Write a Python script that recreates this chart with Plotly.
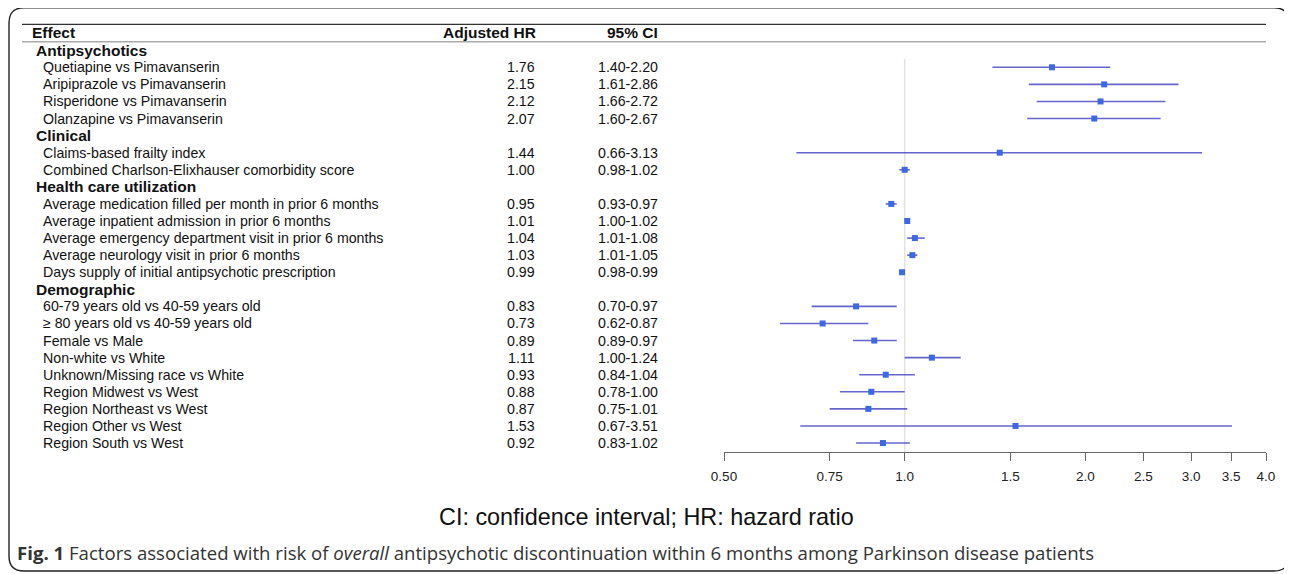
import plotly.graph_objects as go

# page body has an 8px margin; the figure is sized/offset to compensate
OFF = 8
W, H = 1292 - OFF, 574 - OFF

# ---------------- data ----------------
groups = ["Antipsychotics", "Clinical", "Health care utilization", "Demographic"]
effects = [
    "Quetiapine vs Pimavanserin",
    "Aripiprazole vs Pimavanserin",
    "Risperidone vs Pimavanserin",
    "Olanzapine vs Pimavanserin",
    "Claims-based frailty index",
    "Combined Charlson-Elixhauser comorbidity score",
    "Average medication filled per month in prior 6 months",
    "Average inpatient admission in prior 6 months",
    "Average emergency department visit in prior 6 months",
    "Average neurology visit in prior 6 months",
    "Days supply of initial antipsychotic prescription",
    "60-79 years old vs 40-59 years old",
    "≥ 80 years old vs 40-59 years old",
    "Female vs Male",
    "Non-white vs White",
    "Unknown/Missing race vs White",
    "Region Midwest vs West",
    "Region Northeast vs West",
    "Region Other vs West",
    "Region South vs West",
]
effect_group = [0, 0, 0, 0, 1, 1, 2, 2, 2, 2, 2, 3, 3, 3, 3, 3, 3, 3, 3, 3]
hr = [1.76, 2.15, 2.12, 2.07, 1.44, 1.00, 0.95, 1.01, 1.04, 1.03, 0.99,
      0.83, 0.73, 0.89, 1.11, 0.93, 0.88, 0.87, 1.53, 0.92]
ci_lo = [1.40, 1.61, 1.66, 1.60, 0.66, 0.98, 0.93, 1.00, 1.01, 1.01, 0.98,
         0.70, 0.62, 0.82, 1.00, 0.84, 0.78, 0.75, 0.67, 0.83]
ci_hi = [2.20, 2.86, 2.72, 2.67, 3.13, 1.02, 0.97, 1.02, 1.08, 1.05, 0.99,
         0.97, 0.87, 0.97, 1.24, 1.04, 1.00, 1.01, 3.51, 1.02]
hr_text = ["1.76", "2.15", "2.12", "2.07", "1.44", "1.00", "0.95", "1.01", "1.04", "1.03", "0.99",
           "0.83", "0.73", "0.89", "1.11", "0.93", "0.88", "0.87", "1.53", "0.92"]
ci_text = ["1.40-2.20", "1.61-2.86", "1.66-2.72", "1.60-2.67", "0.66-3.13", "0.98-1.02",
           "0.93-0.97", "1.00-1.02", "1.01-1.08", "1.01-1.05", "0.98-0.99",
           "0.70-0.97", "0.62-0.87", "0.89-0.97", "1.00-1.24", "0.84-1.04",
           "0.78-1.00", "0.75-1.01", "0.67-3.51", "0.83-1.02"]
tick_vals = [0.5, 0.75, 1.0, 1.5, 2.0, 2.5, 3.0, 3.5, 4.0]
tick_text = ["0.50", "0.75", "1.0", "1.5", "2.0", "2.5", "3.0", "3.5", "4.0"]
col_headers = ["Effect", "Adjusted HR", "95% CI"]
note_text = "CI: confidence interval; HR: hazard ratio"
fig_caption = ("<b>Fig. 1</b> Factors associated with risk of <i>overall</i> antipsychotic "
               "discontinuation within 6 months among Parkinson disease patients")

# ---------------- row layout ----------------
header_rows, item_rows = [], []
r = 0
for g in range(len(groups)):
    header_rows.append(r)
    r += 1
    for eg in effect_group:
        if eg == g:
            item_rows.append(r)
            r += 1

ROW0, ROWH = 50.2, 17.08        # pixel of row 0 and row spacing (page coords)
AX_Y, TOP_Y = 452.0, 59.0        # axis line pixel, top of plot pixel
X0, X1 = 724.0, 1266.0


def px(x):
    return (x - OFF) / W


def py(y):
    return 1 - (y - OFF) / H


def row_y(row):
    return py(ROW0 + ROWH * row)


TXT = "Liberation Sans, Arial, sans-serif"

fig = go.Figure()

# CI lines
lx, ly = [], []
for lo, hi, row in zip(ci_lo, ci_hi, item_rows):
    lx += [lo, hi, None]
    ly += [row, row, None]
fig.add_trace(go.Scatter(x=lx, y=ly, mode="lines",
                         line=dict(color="rgba(62,62,192,0.8)", width=1.6),
                         hoverinfo="skip", showlegend=False))
# point estimates
fig.add_trace(go.Scatter(x=hr, y=item_rows, mode="markers",
                         marker=dict(symbol="square", size=6, color="#3d68e0",
                                     line=dict(width=0)),
                         showlegend=False))

shapes = []
# reference line at HR = 1
shapes.append(dict(type="line", xref="x", yref="y", x0=1, x1=1,
                   y0=(TOP_Y - ROW0) / ROWH, y1=(AX_Y - ROW0) / ROWH,
                   line=dict(color="#e2e2e2", width=1.5), layer="below"))
# header rules
shapes.append(dict(type="line", xref="paper", yref="paper", x0=px(22), x1=px(1266),
                   y0=py(24.3), y1=py(24.3), line=dict(color="#333", width=1.3)))
shapes.append(dict(type="line", xref="paper", yref="paper", x0=px(22), x1=px(1266),
                   y0=py(41.7), y1=py(41.7), line=dict(color="#aaa", width=1.6)))
# rounded border
bx0, bx1, by0, by1 = px(9), px(1289), py(7.8), py(571)
rx, ry = 15 / W, 15 / H
path = (f"M {bx0+rx},{by0} L {bx1-rx},{by0} Q {bx1},{by0} {bx1},{by0-ry} "
        f"L {bx1},{by1+ry} Q {bx1},{by1} {bx1-rx},{by1} L {bx0+rx},{by1} "
        f"Q {bx0},{by1} {bx0},{by1+ry} L {bx0},{by0-ry} Q {bx0},{by0} {bx0+rx},{by0} Z")
shapes.append(dict(type="path", xref="paper", yref="paper", path=path,
                   line=dict(color="#222", width=1.4)))

ann = []


def add_text(text, x, y, anchor="left", size=13, bold=False, color="#111", font=TXT):
    ann.append(dict(text=f"<b>{text}</b>" if bold else text, x=x, y=y, xref="paper", yref="paper",
                    xanchor=anchor, yanchor="middle", showarrow=False,
                    font=dict(family=font, size=size, color=color)))


# column headers
hy = py(33)
add_text(col_headers[0], px(30), hy, "left", 15.5, True)
add_text(col_headers[1], px(538), hy, "right", 15.5, True)
add_text(col_headers[2], px(660), hy, "right", 15.5, True)

for g, row in zip(groups, header_rows):
    add_text(g, px(34), row_y(row), "left", 15.5, True)
for lab, h_t, c_t, row in zip(effects, hr_text, ci_text, item_rows):
    add_text(lab, px(41), row_y(row), "left", 14.2)
    add_text(h_t, px(537), row_y(row), "right", 14.2)
    add_text(c_t, px(660), row_y(row), "right", 14.2)

add_text(note_text, px(646), py(517), "center", 23.4, color="#111")
add_text(fig_caption, px(15), py(552), "left", 18.6, color="#333",
         font="Open Sans, Noto Sans, sans-serif")

fig.update_layout(
    width=W, height=H, autosize=False,
    margin=dict(l=0, r=0, t=0, b=0, pad=0),
    paper_bgcolor="white", plot_bgcolor="white",
    shapes=shapes, annotations=ann, showlegend=False,
    xaxis=dict(type="log", domain=[px(X0), px(X1)],
               range=[-0.30103, 0.60206],
               tickvals=tick_vals, ticktext=tick_text,
               ticks="outside", ticklen=8, tickwidth=1.4, tickcolor="#666",
               showline=True, linecolor="#666", linewidth=1.4,
               showgrid=False, zeroline=False, automargin=False,
               ticklabelstandoff=4,
               tickfont=dict(family=TXT, size=13.5, color="#222")),
    yaxis=dict(domain=[py(AX_Y), py(TOP_Y)],
               range=[(AX_Y - ROW0) / ROWH, (TOP_Y - ROW0) / ROWH],
               visible=False, showgrid=False, zeroline=False, automargin=False),
)

fig.write_html("out.html")
